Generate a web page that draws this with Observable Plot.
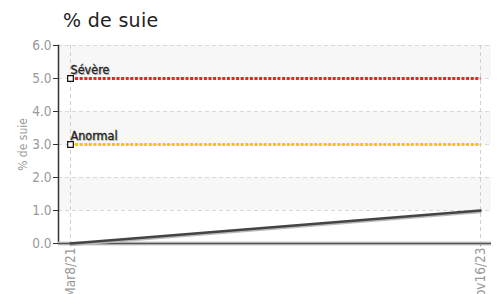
<!DOCTYPE html>
<html><head><meta charset="utf-8">
<script src="https://cdn.jsdelivr.net/npm/d3@7"></script>
<script src="https://cdn.jsdelivr.net/npm/@observablehq/plot@0.6"></script>
<style>
body{margin:0;background:#fff;width:501px;height:294px;overflow:hidden;font-family:"Liberation Sans",Arial,sans-serif;}
#title{height:36px;box-sizing:border-box;padding:9px 0 0 63px;font-size:19px;color:#222;font-family:"DejaVu Sans",sans-serif;letter-spacing:0.3px;line-height:22px;}
</style></head><body>
<div id="title">% de suie</div>
<div id="chart"></div>
<script>
const dates = ["2021-03-08", "2023-11-16"];
const tickLabels = ["Mar8/21", "Nov16/23"];
const sootValues = [0.0, 1.0];
const thresholdNames = ["Sévère", "Anormal"];
const thresholdValues = [5.0, 3.0];
const yTicks = [0, 1, 2, 3, 4, 5, 6];
const bandStarts = [1, 3, 5];
const yLabel = "% de suie";

const parse = d3.utcParse("%Y-%m-%d");
const dd = dates.map(parse);
const series = dd.map((d, i) => ({date: d, v: sootValues[i]}));
const thresholdColors = {"Sévère": "#ff1a1a", "Anormal": "#f7c600"};
const thresholds = thresholdNames.map((n, i) => ({name: n, v: thresholdValues[i]}));
const thrLines = thresholds.flatMap(t => dd.map(d => ({name: t.name, v: t.v, date: d})));
const bands = bandStarts.map(b => ({y1: b, y2: b + 1}));
const condensed = "'DejaVu Sans Condensed','Liberation Sans Narrow',sans-serif";

const chart = Plot.plot({
  width: 501,
  height: 258,
  marginLeft: 58,
  marginRight: 10,
  marginTop: 9,
  marginBottom: 51,
  style: {fontFamily: condensed, background: "transparent"},
  x: {type: "utc", domain: [dd[0], dd[1]], insetLeft: 12, insetRight: 11},
  y: {domain: [0, 6]},
  marks: [
    Plot.rect(bands, {y1: "y1", y2: "y2", fill: "#f7f7f7"}),
    Plot.ruleY(yTicks, {stroke: "#d8d8d8", strokeDasharray: "4,3", strokeWidth: 1}),
    Plot.ruleX(dd, {stroke: "#d0d0d0", strokeDasharray: "4,3", strokeWidth: 1}),
    Plot.axisY(yTicks, {tickFormat: d3.format(".1f"), fontSize: 13.5, color: "#999", tickSize: 5, tickPadding: 2, stroke: "#333", label: null}),
    Plot.axisY(yTicks, {tickFormat: () => "", tickSize: 0, fontSize: 12, color: "#999", label: yLabel, labelAnchor: "center", labelArrow: "none", labelOffset: 40}),
    Plot.axisX(dd, {tickFormat: (d, i) => tickLabels[i], tickRotate: -90, fontSize: 13.5, color: "#999", tickSize: 3, tickPadding: 1, stroke: "#333", label: null}),
    Plot.frame({anchor: "left", stroke: "#333", strokeWidth: 1.5}),
    Plot.ruleY([0], {stroke: "#ccc", strokeWidth: 4}),
    Plot.ruleY([0], {stroke: "#555", strokeWidth: 1.5}),
    Plot.line(thrLines, {x: "date", y: "v", z: "name", stroke: d => thresholdColors[d.name], strokeWidth: 3, strokeDasharray: "3,1.6", strokeLinecap: "butt"}),
    Plot.line(series, {x: "date", y: "v", stroke: "#bbb", strokeWidth: 2.5, dy: 1.5}),
    Plot.line(series, {x: "date", y: "v", stroke: "#444", strokeWidth: 2.5}),
    Plot.dot(thresholds, {x: () => dd[0], y: "v", symbol: "square", r: 3.2, fill: "#fff", stroke: "#111", strokeWidth: 1.2}),
    Plot.text(thresholds, {x: () => dd[0], y: "v", text: "name", textAnchor: "start", dy: -8, dx: 1, fontSize: 12.5, fill: "#bbb"}),
    Plot.text(thresholds, {x: () => dd[0], y: "v", text: "name", textAnchor: "start", dy: -9, fontSize: 12.5, fill: "#222", stroke: "#222", strokeWidth: 0.3})
  ]
});
document.getElementById("chart").appendChild(chart);
</script>
</body></html>
